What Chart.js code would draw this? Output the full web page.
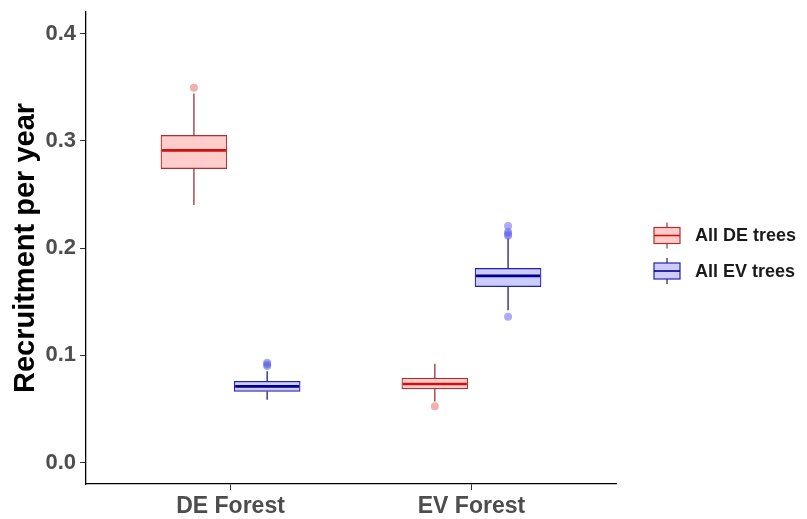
<!DOCTYPE html>
<html>
<head>
<meta charset="utf-8">
<script src="https://cdn.jsdelivr.net/npm/chart.js@4.4.1/dist/chart.umd.min.js"></script>
<style>
  html, body { margin: 0; padding: 0; background: #fff; }
  #wrap { width: 807px; height: 519px; }
</style>
</head>
<body>
<div id="wrap"><canvas id="boxChart" width="807" height="519"></canvas></div>
<script>
const categories = ['DE Forest', 'EV Forest'];
const seriesNames = ['All DE trees', 'All EV trees'];
const yTicks = [0.0, 0.1, 0.2, 0.3, 0.4];

// DE trees: one value per category
const deLow  = [0.240, 0.057];
const deQ1   = [0.274, 0.0686];
const deMed  = [0.291, 0.0732];
const deQ3   = [0.305, 0.0788];
const deHigh = [0.344, 0.092];
const deOutliers = [[0.3495], [0.0524]];

// EV trees
const evLow  = [0.0586, 0.142];
const evQ1   = [0.0663, 0.164];
const evMed  = [0.0710, 0.174];
const evQ3   = [0.0757, 0.181];
const evHigh = [0.085, 0.209];
const evOutliers = [[0.090, 0.0915, 0.093], [0.136, 0.2115, 0.213, 0.215, 0.2205]];

const DODGE = 0.152;
const BOX_PX = 66;
const FONT = "'Liberation Sans', Arial, sans-serif";

const styles = [
  { fill: '#ffcccc', border: '#a83232', whisker: '#9a3434', median: '#cc1111', outlier: 'rgba(235,110,110,0.55)' },
  { fill: '#ccccff', border: '#2323a6', whisker: '#1f1f78', median: '#00008b', outlier: 'rgba(90,90,235,0.5)' },
];

const series = [
  { low: deLow, q1: deQ1, med: deMed, q3: deQ3, high: deHigh, out: deOutliers },
  { low: evLow, q1: evQ1, med: evMed, q3: evQ3, high: evHigh, out: evOutliers },
];

function xPos(s, i) {
  return i + 1 + (s === 0 ? -DODGE : DODGE);
}

const boxDatasets = series.map((d, s) => ({
  type: 'bar',
  label: seriesNames[s],
  data: categories.map((c, i) => ({ x: xPos(s, i), y: [d.q1[i], d.q3[i]] })),
  backgroundColor: styles[s].fill,
  borderColor: styles[s].border,
  borderWidth: 1.2,
  borderSkipped: false,
  barThickness: BOX_PX,
  grouped: false,
  order: 2,
}));

const outlierDatasets = series.map((d, s) => ({
  type: 'scatter',
  label: seriesNames[s] + ' outliers',
  data: categories.flatMap((c, i) => d.out[i].map((v) => ({ x: xPos(s, i), y: v }))),
  backgroundColor: styles[s].outlier,
  borderColor: styles[s].outlier,
  pointRadius: 4,
  borderWidth: 0,
  order: 1,
}));

const whiskerPlugin = {
  id: 'whiskers',
  beforeDatasetsDraw(chart) {
    const { ctx, scales: { x, y } } = chart;
    ctx.save();
    ctx.lineWidth = 1.3;
    series.forEach((d, s) => {
      ctx.strokeStyle = styles[s].whisker;
      categories.forEach((c, i) => {
        const px = x.getPixelForValue(xPos(s, i));
        ctx.beginPath();
        ctx.moveTo(px, y.getPixelForValue(d.q3[i]));
        ctx.lineTo(px, y.getPixelForValue(d.high[i]));
        ctx.moveTo(px, y.getPixelForValue(d.q1[i]));
        ctx.lineTo(px, y.getPixelForValue(d.low[i]));
        ctx.stroke();
      });
    });
    ctx.restore();
  },
  afterDatasetsDraw(chart) {
    const { ctx, scales: { x, y } } = chart;
    ctx.save();
    ctx.lineWidth = 2.6;
    series.forEach((d, s) => {
      ctx.strokeStyle = styles[s].median;
      categories.forEach((c, i) => {
        const px = x.getPixelForValue(xPos(s, i));
        const py = y.getPixelForValue(d.med[i]);
        ctx.beginPath();
        ctx.moveTo(px - BOX_PX / 2 + 1, py);
        ctx.lineTo(px + BOX_PX / 2 - 1, py);
        ctx.stroke();
      });
    });
    ctx.restore();
  },
};

const legendPlugin = {
  id: 'boxLegend',
  afterDraw(chart) {
    const { ctx, chartArea } = chart;
    const x0 = chartArea.right + 38;
    const rows = [235.5, 271];
    ctx.save();
    seriesNames.forEach((name, s) => {
      const cy = rows[s];
      const st = styles[s];
      ctx.strokeStyle = st.whisker;
      ctx.lineWidth = 1.2;
      ctx.beginPath();
      ctx.moveTo(x0 + 13, cy - 13);
      ctx.lineTo(x0 + 13, cy + 13);
      ctx.stroke();
      ctx.fillStyle = st.fill;
      ctx.fillRect(x0, cy - 8, 26, 16);
      ctx.strokeStyle = st.border;
      ctx.strokeRect(x0, cy - 8, 26, 16);
      ctx.strokeStyle = st.median;
      ctx.lineWidth = 1.6;
      ctx.beginPath();
      ctx.moveTo(x0, cy);
      ctx.lineTo(x0 + 26, cy);
      ctx.stroke();
      ctx.fillStyle = '#1a1a1a';
      ctx.font = 'bold 18px ' + FONT;
      ctx.textBaseline = 'middle';
      ctx.textAlign = 'left';
      ctx.fillText(name, x0 + 41, cy + 1);
    });
    ctx.restore();
  },
};

new Chart(document.getElementById('boxChart'), {
  data: { datasets: [...boxDatasets, ...outlierDatasets] },
  plugins: [whiskerPlugin, legendPlugin],
  options: {
    responsive: false,
    animation: false,
    layout: { padding: { top: 12, right: 191, bottom: 0, left: 0 } },
    plugins: { legend: { display: false }, tooltip: { enabled: false } },
    scales: {
      x: {
        type: 'linear',
        min: 0.4,
        max: 2.6,
        offset: false,
        afterBuildTicks: (scale) => { scale.ticks = categories.map((c, i) => ({ value: i + 1 })); },
        afterFit: (scale) => { scale.height = 35; scale.paddingLeft = 0; scale.paddingRight = 0; },
        ticks: {
          callback: (v) => categories[v - 1],
          color: '#4d4d4d',
          font: { family: FONT, size: 23, weight: 'bold' },
          padding: 3,
          maxRotation: 0,
        },
        grid: { offset: false, drawOnChartArea: false, drawTicks: true, tickLength: 6, color: '#333' },
        border: { display: true, color: '#000', width: 1.3 },
      },
      y: {
        min: -0.02,
        max: 0.42,
        afterBuildTicks: (scale) => { scale.ticks = yTicks.map((v) => ({ value: v })); },
        afterFit: (scale) => { scale.width = 86; scale.paddingTop = 0; scale.paddingBottom = 0; },
        ticks: {
          callback: (v) => v.toFixed(1),
          color: '#4d4d4d',
          font: { family: FONT, size: 22, weight: 'bold' },
          padding: 4,
        },
        grid: { drawOnChartArea: false, drawTicks: true, tickLength: 6, color: '#333' },
        border: { display: true, color: '#000', width: 1.3 },
        title: {
          display: true,
          text: 'Recruitment per year',
          color: '#000',
          font: { family: FONT, size: 29, weight: 'bold' },
          padding: { top: 9, bottom: 4 },
        },
      },
    },
  },
});
</script>
</body>
</html>
